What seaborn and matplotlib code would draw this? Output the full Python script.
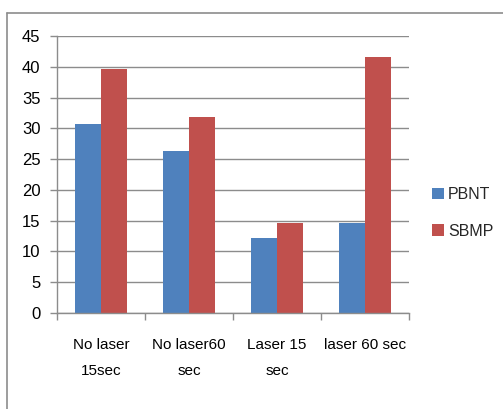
import matplotlib
matplotlib.use("Agg")
import matplotlib.pyplot as plt
from matplotlib.lines import Line2D
from matplotlib.patches import Patch
import seaborn as sns
import pandas as pd
import numpy as np

categories = ["No laser\n15sec", "No laser60\nsec", "Laser 15\nsec", "laser 60 sec"]
series = ["PBNT", "SBMP"]
pbnt = [30.7, 26.3, 12.2, 14.6]
sbmp = [39.6, 31.9, 14.6, 41.6]
yticks = [0, 5, 10, 15, 20, 25, 30, 35, 40, 45]
colors = ["#4F81BD", "#C0504D"]

df = pd.DataFrame({
    "cat": categories * 2,
    "series": [series[0]] * 4 + [series[1]] * 4,
    "value": pbnt + sbmp,
})

sns.set_theme(style="white")
plt.rcParams["font.family"] = ["Liberation Sans", "DejaVu Sans"]

fig = plt.figure(figsize=(5.03, 4.09), dpi=100)
ax = fig.add_axes([57 / 503, 1 - 313 / 409, (409 - 57) / 503, (313 - 36) / 409])

sns.barplot(data=df, x="cat", y="value", hue="series", palette=colors,
            width=0.58, linewidth=0, saturation=1, ax=ax, legend=False,
            errorbar=None)

grid_c = "#8c8c8c"
ax.set_ylim(0, 45)
ax.set_xlim(-0.5, 3.5)
ax.set_yticks(yticks)
ax.set_yticklabels([str(v) for v in yticks], fontsize=12, color="#000000")
ax.yaxis.grid(True, color=grid_c, linewidth=1)
ax.set_axisbelow(True)
ax.tick_params(axis="y", length=5, width=1, color=grid_c, pad=7, left=True)

ax.set_xticks(range(4))
ax.set_xticklabels(categories, fontsize=11, linespacing=2.1, color="#000000")
ax.tick_params(axis="x", which="major", length=0, pad=18)
ax.set_xticks(np.arange(-0.5, 4.0, 1.0), minor=True)
ax.tick_params(axis="x", which="minor", length=5, width=1, color=grid_c, bottom=True)
ax.set_xlabel("")
ax.set_ylabel("")

for side in ["top", "right"]:
    ax.spines[side].set_visible(False)
for side in ["left", "bottom"]:
    ax.spines[side].set_color(grid_c)
    ax.spines[side].set_linewidth(1)

handles = [Patch(facecolor=c, edgecolor="none") for c in colors]
fig.legend(handles, series, loc="center left", bbox_to_anchor=(429 / 503, 1 - 213 / 409),
           frameon=False, fontsize=11.5, handlelength=0.75, handleheight=0.75,
           handletextpad=0.25, labelspacing=1.35, borderpad=0.2, borderaxespad=0)

# outer chart frame (top and left edges)
fig.add_artist(Line2D([7 / 503, 1.0], [1 - 13 / 409, 1 - 13 / 409], transform=fig.transFigure,
                      color="#8c8c8c", linewidth=1.2))
fig.add_artist(Line2D([7 / 503, 7 / 503], [0, 1 - 13 / 409], transform=fig.transFigure,
                      color="#8c8c8c", linewidth=1.2))

fig.savefig("out.png", dpi=100, facecolor="white")
